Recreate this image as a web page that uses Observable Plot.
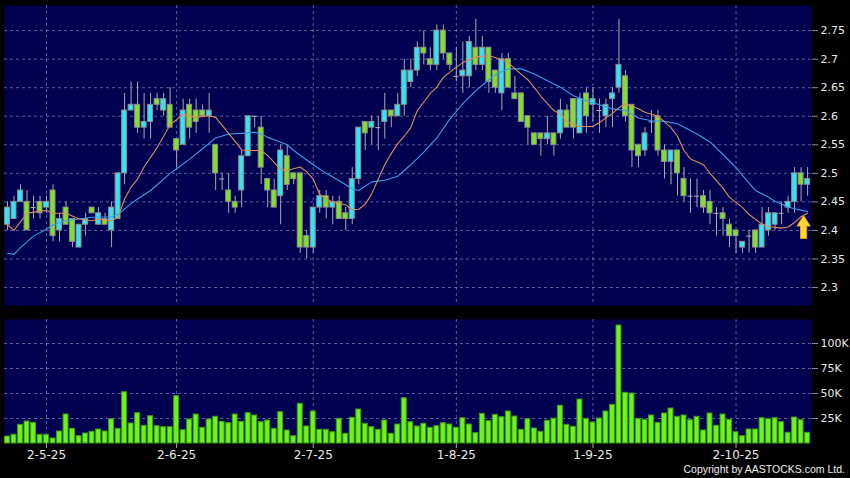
<!DOCTYPE html>
<html><head><meta charset="utf-8">
<script src="https://cdn.jsdelivr.net/npm/d3@7"></script>
<script src="https://cdn.jsdelivr.net/npm/@observablehq/plot@0.6"></script>
<style>
html,body{margin:0;padding:0;background:#000;}
#chart{position:relative;width:850px;height:478px;background:#000;overflow:hidden;}
#chart svg{display:block;}
#copy{position:absolute;right:5px;top:463px;color:#f0f0f0;font:10.5px/13px "Liberation Sans",Arial,sans-serif;white-space:nowrap;}
</style></head><body><div id="chart"></div>
<script>
// ---- data (trading-day index 0..123) ----
const open = [
2.41,2.42,2.45,2.45,2.44,2.45,2.44,2.47,2.40,2.44,
2.42,2.37,2.41,2.44,2.41,2.42,2.40,2.42,2.50,2.61,
2.62,2.58,2.59,2.63,2.61,2.62,2.56,2.55,2.62,2.61,
2.61,2.60,2.55,2.49,2.47,2.45,2.47,2.53,2.60,2.58,
2.49,2.47,2.46,2.53,2.50,2.50,2.39,2.37,2.44,2.46,
2.44,2.45,2.43,2.42,2.49,2.59,2.58,2.58,2.59,2.61,
2.60,2.62,2.66,2.68,2.72,2.70,2.69,2.75,2.71,2.67,
2.67,2.67,2.72,2.69,2.72,2.68,2.64,2.70,2.64,2.64,
2.60,2.57,2.57,2.56,2.57,2.57,2.61,2.63,2.57,2.64,
2.62,2.61,2.60,2.63,2.65,2.67,2.62,2.55,2.54,2.59,
2.60,2.54,2.52,2.54,2.49,2.46,2.46,2.46,2.45,2.43,
2.43,2.41,2.40,2.37,2.39,2.40,2.37,2.40,2.41,2.43,
2.44,2.45,2.50,2.48];
const high = [
2.45,2.46,2.48,2.47,2.46,2.46,2.46,2.48,2.43,2.45,
2.42,2.41,2.43,2.44,2.44,2.43,2.45,2.50,2.64,2.66,
2.66,2.64,2.64,2.64,2.64,2.65,2.56,2.63,2.63,2.63,
2.62,2.64,2.55,2.50,2.50,2.46,2.54,2.60,2.60,2.60,
2.49,2.49,2.55,2.55,2.50,2.50,2.40,2.44,2.47,2.47,
2.46,2.46,2.44,2.51,2.58,2.59,2.60,2.60,2.64,2.61,
2.64,2.70,2.70,2.73,2.75,2.72,2.76,2.76,2.71,2.72,
2.73,2.74,2.77,2.74,2.72,2.68,2.71,2.71,2.67,2.64,
2.60,2.57,2.57,2.60,2.57,2.63,2.62,2.63,2.64,2.65,
2.65,2.63,2.63,2.65,2.77,2.68,2.62,2.55,2.58,2.61,
2.61,2.55,2.54,2.54,2.51,2.49,2.49,2.47,2.47,2.44,
2.44,2.42,2.40,2.38,2.40,2.40,2.44,2.44,2.43,2.45,
2.46,2.51,2.51,2.51];
const low = [
2.40,2.42,2.45,2.40,2.42,2.42,2.43,2.38,2.38,2.41,
2.37,2.37,2.39,2.43,2.41,2.41,2.37,2.42,2.48,2.61,
2.57,2.56,2.56,2.61,2.60,2.58,2.51,2.55,2.56,2.57,
2.60,2.57,2.47,2.47,2.43,2.43,2.44,2.53,2.58,2.48,
2.44,2.44,2.41,2.47,2.48,2.36,2.35,2.36,2.43,2.42,
2.41,2.42,2.40,2.41,2.48,2.54,2.55,2.54,2.56,2.58,
2.60,2.60,2.65,2.67,2.69,2.68,2.68,2.70,2.68,2.66,
2.64,2.65,2.68,2.68,2.64,2.64,2.61,2.65,2.63,2.59,
2.55,2.55,2.53,2.55,2.53,2.56,2.58,2.56,2.57,2.57,
2.59,2.57,2.58,2.58,2.64,2.59,2.51,2.51,2.53,2.57,
2.53,2.49,2.48,2.46,2.45,2.43,2.44,2.43,2.41,2.39,
2.39,2.37,2.36,2.36,2.36,2.36,2.37,2.39,2.40,2.41,
2.43,2.43,2.45,2.46];
const close = [
2.44,2.45,2.47,2.40,2.44,2.43,2.45,2.39,2.42,2.41,
2.38,2.41,2.42,2.43,2.43,2.41,2.44,2.50,2.61,2.62,
2.58,2.59,2.62,2.62,2.63,2.58,2.54,2.61,2.58,2.59,
2.60,2.61,2.50,2.49,2.45,2.44,2.53,2.60,2.60,2.51,
2.47,2.44,2.54,2.48,2.49,2.37,2.37,2.44,2.46,2.44,
2.45,2.42,2.42,2.49,2.58,2.57,2.59,2.58,2.61,2.60,
2.62,2.68,2.68,2.72,2.71,2.69,2.75,2.71,2.69,2.67,
2.68,2.73,2.69,2.72,2.66,2.65,2.70,2.65,2.63,2.59,
2.58,2.55,2.56,2.57,2.55,2.61,2.58,2.58,2.63,2.60,
2.63,2.61,2.62,2.64,2.69,2.60,2.54,2.53,2.57,2.59,
2.54,2.52,2.54,2.50,2.46,2.46,2.46,2.44,2.43,2.43,
2.42,2.39,2.39,2.38,2.39,2.37,2.41,2.43,2.43,2.43,
2.45,2.50,2.48,2.49];
// volume in thousands of shares
const volume = [
7,8.7,18.7,22,20.7,8.7,8.7,5,12,29,
14.7,7.3,10,11.7,14,12,24.3,14.7,51.3,20,
30.3,17.7,27.3,17.3,16.3,16.3,47.3,13.3,24,29,
15.7,24,26.7,21.7,20.3,29,21.7,30.3,28,21.3,
23,14.7,31.3,13,7.3,39.7,17,32,13.7,13.7,
11.3,24.7,9.7,25.7,34,19.7,16.3,13.7,23,9.7,
19,45.3,21.3,17,19.7,15.7,17.3,20.3,19,15.7,
25.3,19,10.3,29.7,22.3,28.7,26.3,32,27,13.7,
24.3,15,11.7,22.7,24.8,37.7,18.7,16.7,44,24.7,
21,25,32,38.7,118,50.7,50,24.7,23.7,28,
20.7,30,35,26.7,28,23.3,26.7,13,30,17.7,
29,23.7,11.3,7.3,14,14,25.3,24.3,25.3,21.3,
10.7,26,23.3,10.7];
// 10-day moving average (orange), read at these indices
const ma10Idx = [0,1,3,4,6,7,9,11,13,14,16,17,18,19,20,21,23,24,25,27,29,31,32,33,34,35,36,37,39,40,41,42,43,45,46,47,48,50,52,53,54,55,56,57,58,59,60,61,62,63,64,65,66,67,69,70,72,74,75,77,78,80,81,82,83,84,85,86,88,90,91,93,94,95,97,98,100,101,102,103,104,105,107,108,110,111,113,114,116,117,119,120,121,122,123];
const ma10 = [2.41,2.40,2.43,2.432,2.435,2.43,2.43,2.42,2.417,2.42,2.417,2.423,2.455,2.476,2.49,2.511,2.545,2.565,2.585,2.603,2.598,2.601,2.598,2.584,2.570,2.556,2.541,2.54,2.54,2.531,2.519,2.507,2.505,2.511,2.503,2.49,2.463,2.449,2.445,2.436,2.437,2.446,2.464,2.49,2.515,2.535,2.552,2.565,2.58,2.61,2.625,2.64,2.651,2.668,2.686,2.694,2.704,2.706,2.703,2.694,2.683,2.664,2.65,2.635,2.622,2.61,2.604,2.59,2.582,2.582,2.589,2.605,2.615,2.622,2.613,2.607,2.60,2.59,2.58,2.565,2.54,2.525,2.515,2.50,2.474,2.458,2.44,2.428,2.411,2.407,2.404,2.406,2.414,2.424,2.43];
// 20-day moving average (blue)
const ma20Idx = [0,1,2,3,4,6,7,9,11,13,16,17,19,20,22,25,26,28,30,32,34,36,38,39,40,41,43,44,47,49,51,53,54,56,58,60,61,62,64,66,68,70,72,74,75,77,79,81,83,85,87,89,91,93,95,97,99,101,103,105,106,108,110,112,114,115,117,118,120,121,123];
const ma20 = [2.36,2.358,2.37,2.38,2.39,2.402,2.41,2.417,2.42,2.423,2.424,2.428,2.447,2.455,2.47,2.50,2.508,2.525,2.543,2.562,2.569,2.57,2.572,2.569,2.563,2.559,2.55,2.54,2.515,2.50,2.487,2.473,2.47,2.485,2.488,2.495,2.505,2.515,2.537,2.562,2.595,2.622,2.645,2.664,2.673,2.683,2.683,2.674,2.662,2.651,2.636,2.627,2.62,2.613,2.61,2.597,2.592,2.591,2.587,2.575,2.569,2.555,2.533,2.51,2.483,2.47,2.458,2.451,2.441,2.438,2.433];
const dateIdx = [6, 26, 47, 69, 90, 112];
const dateLabels = ["2-5-25","2-6-25","2-7-25","1-8-25","1-9-25","2-10-25"];
const priceTicks = [2.3,2.35,2.4,2.45,2.5,2.55,2.6,2.65,2.7,2.75];
const volTicks = [25,50,75,100];
const signal = [{i: 123, price: 2.406}]; // buy-signal arrow

// ---- build ----
const candles = open.map((o, i) => ({i, open: o, high: high[i], low: low[i], close: close[i], vol: volume[i]}));
const ma10Data = ma10Idx.map((i, k) => ({i, v: ma10[k]}));
const ma20Data = ma20Idx.map((i, k) => ({i, v: ma20[k]}));
const labelOf = new Map(dateIdx.map((d, k) => [d, dateLabels[k]]));
const xDomain = [-0.46, 123.6];
const half = 0.38;
const UP = "#35e3f3", DOWN = "#80e02c", NAVY = "#000050";
const grid = {stroke: "#7c7cb0", strokeOpacity: 0.75, strokeWidth: 1, strokeDasharray: "3,3"};
const arrowSymbol = {draw(ctx, size) {
  const r = Math.sqrt(size / Math.PI);
  ctx.moveTo(0, -r);
  ctx.lineTo(0.58 * r, -0.08 * r);
  ctx.lineTo(0.27 * r, -0.08 * r);
  ctx.lineTo(0.27 * r, r);
  ctx.lineTo(-0.27 * r, r);
  ctx.lineTo(-0.27 * r, -0.08 * r);
  ctx.lineTo(-0.58 * r, -0.08 * r);
  ctx.closePath();
}};

const style = {background: "#000", color: "#e8e8e8", fontFamily: "DejaVu Sans", fontSize: "11px"};

const price = Plot.plot({
  width: 850, height: 310,
  marginLeft: 4, marginRight: 39, marginTop: 5, marginBottom: 5,
  style,
  x: {domain: xDomain, axis: null, label: null},
  y: {domain: [2.2685, 2.794], label: null},
  marks: [
    Plot.frame({fill: NAVY, stroke: "none"}),
    Plot.gridY(priceTicks, grid),
    Plot.gridX(dateIdx, grid),
    Plot.axisY(priceTicks, {anchor: "right", label: null, tickSize: 6, tickPadding: 3, stroke: "#8a8ab0", tickFormat: d => String(d)}),
    Plot.ruleX(candles, {x: "i", y1: "low", y2: "high", stroke: "#a9a9a9", strokeWidth: 1}),
    Plot.rect(candles, {x1: d => d.i - half, x2: d => d.i + half, y1: "open", y2: "close",
      fill: d => d.close >= d.open ? UP : DOWN, stroke: "#8e8e8e", strokeWidth: 1}),
    Plot.ruleY(candles.filter(d => d.open === d.close), {y: "close", x1: d => d.i - half, x2: d => d.i + half, stroke: "#b5b5b5"}),
    Plot.line(ma20Data, {x: "i", y: "v", stroke: "#3a9fe8", strokeWidth: 1.1}),
    Plot.line(ma10Data, {x: "i", y: "v", stroke: "#dc8c5c", strokeWidth: 1.1}),
    Plot.dot(signal, {x: "i", y: "price", symbol: arrowSymbol, r: 11.5, fill: "#ffd633", stroke: "#e39a1c", strokeWidth: 1, dx: -4})
  ]
});

const vol = Plot.plot({
  width: 850, height: 168,
  marginLeft: 4, marginRight: 39, marginTop: 9, marginBottom: 35,
  style,
  x: {domain: xDomain, label: null},
  y: {domain: [0, 124], label: null},
  marks: [
    Plot.frame({fill: NAVY, stroke: "none"}),
    Plot.gridY(volTicks, grid),
    Plot.gridX(dateIdx, grid),
    Plot.axisY(volTicks, {anchor: "right", label: null, tickSize: 6, tickPadding: 3, stroke: "#8a8ab0", tickFormat: d => d + "K"}),
    Plot.axisX(dateIdx, {anchor: "bottom", label: null, tickSize: 5, tickPadding: 2, stroke: "#aaaaaa", fontSize: 12, tickFormat: d => labelOf.get(d)}),
    Plot.rectY(candles, {x1: d => d.i - half, x2: d => d.i + half, y: "vol", fill: "#6cf21e", stroke: "#3f9a12", strokeWidth: 1})
  ]
});

const root = document.getElementById("chart");
root.append(price, vol);
const copy = document.createElement("div");
copy.id = "copy";
copy.textContent = "Copyright by AASTOCKS.com Ltd.";
root.append(copy);
</script></body></html>
